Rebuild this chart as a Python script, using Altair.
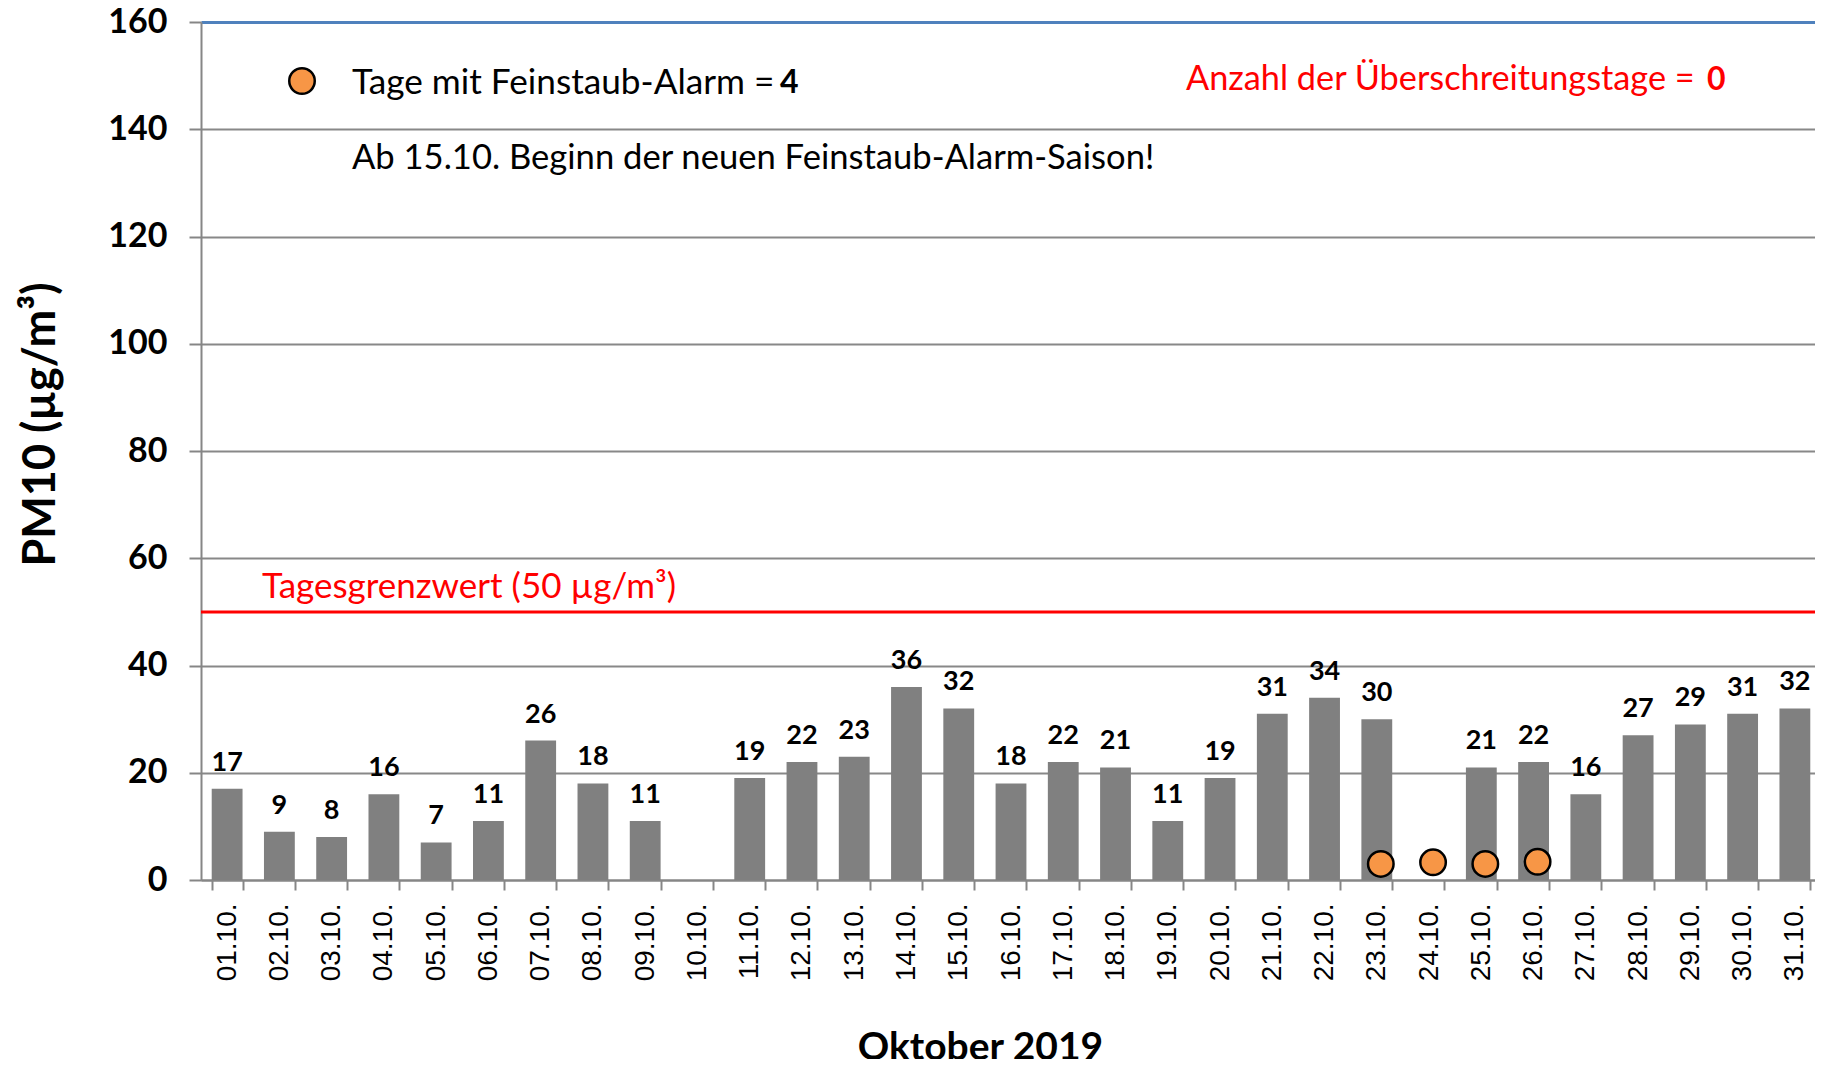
import altair as alt
import pandas as pd

# ---- data ----
days = [f"{d:02d}.10." for d in range(1, 32)]
pm10 = [17, 9, 8, 16, 7, 11, 26, 18, 11, None, 19, 22, 23, 36, 32, 18,
        22, 21, 11, 19, 31, 34, 30, None, 21, 22, 16, 27, 29, 31, 32]
alarm_days = ["23.10.", "24.10.", "25.10.", "26.10."]
alarm_marker = [3.0, 3.3, 3.0, 3.4]
limit_value = [50]
y_ticks = [0, 20, 40, 60, 80, 100, 120, 140, 160]

df = pd.DataFrame({"day": days, "pm10": pm10})
alarm_df = pd.DataFrame({"day": alarm_days, "marker": alarm_marker})
limit_df = pd.DataFrame({"limit": limit_value})
one = pd.DataFrame({"k": [0]})

W, H = 1620, 858
BOLD = "Lato"
REG = "Lato"

x_enc = alt.X(
    "day:N", sort=days,
    scale=alt.Scale(domain=days, paddingInner=0.41, paddingOuter=0.205),
    axis=alt.Axis(
        title="Oktober 2019", titleFont=BOLD, titleFontWeight="bold", titleFontSize=39,
        titleColor="black", titleX=779, titleY=179, titleAlign="center",
        titleBaseline="alphabetic",
        labelAngle=270, labelAlign="right", labelBaseline="middle",
        labelFont="Liberation Sans", labelFontSize=28, labelColor="black",
        labelPadding=13, tickSize=10, tickColor="#868686", tickWidth=2,
        tickBand="extent", domainColor="#868686", domainWidth=2, grid=False,
    ),
)
y_scale = alt.Scale(domain=[0, 160], nice=False)
y_axis = alt.Axis(
    values=y_ticks, title="PM10 (µg/m³)", titleFont=BOLD, titleFontWeight="bold",
    titleFontSize=45, titleColor="black", titleAngle=270, titleX=-161, titleY=402,
    titleAlign="center", titleBaseline="middle",
    labelFont=BOLD, labelFontWeight="bold", labelFontSize=34, labelColor="black",
    labelPadding=22, tickSize=12, tickColor="#868686", tickWidth=2,
    domainColor="#868686", domainWidth=2,
    grid=True,
    gridWidth=alt.condition("datum.value == 160", alt.value(3), alt.value(2)),
    gridColor=alt.condition("datum.value == 160", alt.value("#4f81bd"), alt.value("#888888")),
)

bars = alt.Chart(df).mark_bar(color="#808080").encode(
    x=x_enc,
    y=alt.Y("pm10:Q", scale=y_scale, axis=y_axis),
)

labels = alt.Chart(df).transform_filter("isValid(datum.pm10)").mark_text(
    font=BOLD, fontWeight="bold", fontSize=27, color="black",
    baseline="alphabetic", dy=-18,
).encode(
    x=alt.X("day:N", sort=days),
    y=alt.Y("pm10:Q"),
    text=alt.Text("pm10:Q", format="d"),
)

limit_rule = alt.Chart(limit_df).mark_rule(color="#ff0000", strokeWidth=3).encode(
    y=alt.Y("limit:Q")
)

alarm = alt.Chart(alarm_df).mark_point(
    shape="circle", filled=True, fill="#f79646", stroke="black", strokeWidth=2.5,
    size=650, opacity=1, xOffset=4,
).encode(
    x=alt.X("day:N", sort=days),
    y=alt.Y("marker:Q"),
)

legend_dot = alt.Chart(one).mark_point(
    shape="circle", filled=True, fill="#f79646", stroke="black", strokeWidth=2.5,
    size=650, opacity=1,
).encode(x=alt.value(101), y=alt.value(59))


def txt(s, x, y, color="black", bold=False, size=35, align="left"):
    return alt.Chart(one).mark_text(
        font=BOLD if bold else REG, fontWeight="bold" if bold else "normal",
        fontSize=size, color=color, align=align, baseline="middle",
    ).encode(x=alt.value(x), y=alt.value(y), text=alt.value(s))


texts = [
    txt("Tage mit Feinstaub-Alarm = ", 151, 61, size=35.2),
    txt("4", 579, 61, bold=True, size=32),
    txt("Ab 15.10. Beginn der neuen Feinstaub-Alarm-Saison!", 151, 137, size=34.6),
    txt("Anzahl der Überschreitungstage = ", 985, 58, color="#ff0000", size=34.3),
    txt("0", 1506, 58, color="#ff0000", bold=True, size=32),
    txt("Tagesgrenzwert (50 µg/m³)", 61, 565, color="#ff0000"),
]

chart = alt.layer(bars, labels, limit_rule, alarm, legend_dot, *texts).properties(
    width=W, height=H,
    autosize=alt.AutoSizeParams(type="none"),
    padding={"left": 193, "top": 14, "right": -6, "bottom": 179},
).configure_view(stroke="#95b3d7", strokeWidth=1).configure(background="white")

chart.save("out.html", embed_options={"renderer": "svg", "actions": False})
